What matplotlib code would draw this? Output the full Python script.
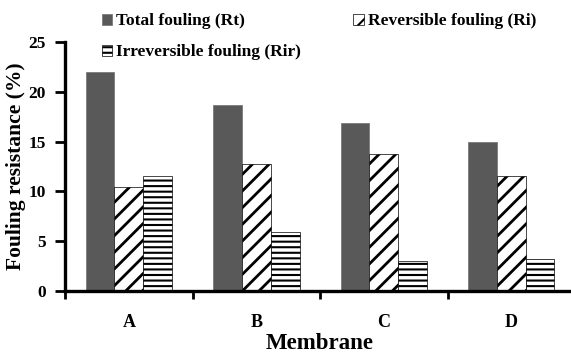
import numpy as np
import matplotlib
matplotlib.use("Agg")
import matplotlib.pyplot as plt

# datos
membranas = ["A", "B", "C", "D"]
total = [22.0, 18.7, 16.9, 15.0]
reversible = [10.4, 12.7, 13.7, 11.5]
irreversible = [11.5, 5.9, 3.0, 3.2]

plt.rcParams['font.family'] = ['Liberation Serif', 'DejaVu Serif']
plt.rcParams['font.weight'] = 'bold'
plt.rcParams['hatch.linewidth'] = 2.0

fig = plt.figure(figsize=(5.71, 3.53), dpi=100)
ax = fig.add_axes([0.114, 0.176, 0.893, 0.705])

x = np.arange(len(membranas))
w = 0.226

b1 = ax.bar(x - w, total, w, color='#595959', edgecolor='#7a7a7a', linewidth=0.6,
            label='Total fouling (Rt)')
b2 = ax.bar(x, reversible, w, color='white', edgecolor='black', linewidth=0.5,
            hatch='//', label='Reversible fouling (Ri)')
plt.rcParams['hatch.linewidth'] = 1.5
b3 = ax.bar(x + w, irreversible, w, color='white', edgecolor='black', linewidth=0.5,
            hatch='---', label='Irreversible fouling (Rir)')

ax.set_xlim(-0.5, 3.5)
ax.set_ylim(0, 25)
ax.set_yticks([0, 5, 10, 15, 20, 25])
ax.set_xticks(x)
ax.set_xticklabels(membranas, fontsize=13, fontweight='bold')
ax.set_xticks(np.arange(-0.5, 4, 1), minor=True)
ax.tick_params(axis='x', which='major', length=0, pad=17)
ax.tick_params(axis='x', which='minor', length=6, width=2, direction='out')
ax.tick_params(axis='y', length=7, width=2, direction='out', labelsize=12.5, pad=7)
for t in ax.get_yticklabels():
    t.set_fontweight('bold')

for s in ['top', 'right']:
    ax.spines[s].set_visible(False)
for s in ['left', 'bottom']:
    ax.spines[s].set_linewidth(2.4)

ax.set_xlabel('Membrane', fontsize=16.5, fontweight='bold', labelpad=1)
ax.set_ylabel('Fouling resistance (%)', fontsize=15.5, fontweight='bold')
ax.yaxis.set_label_coords(-0.076, 0.5)

fig.legend([b1, b3, b2],
           ['Total fouling (Rt)', 'Irreversible fouling (Rir)', 'Reversible fouling (Ri)'],
           ncol=2, loc='upper left', bbox_to_anchor=(0.178, 0.962), frameon=False,
           borderpad=0, borderaxespad=0,
           prop={'weight': 'bold', 'size': 12.5}, handlelength=0.6, handleheight=0.6,
           handletextpad=0.25, columnspacing=3.0, labelspacing=0.85)

fig.savefig('out.png', dpi=100)
